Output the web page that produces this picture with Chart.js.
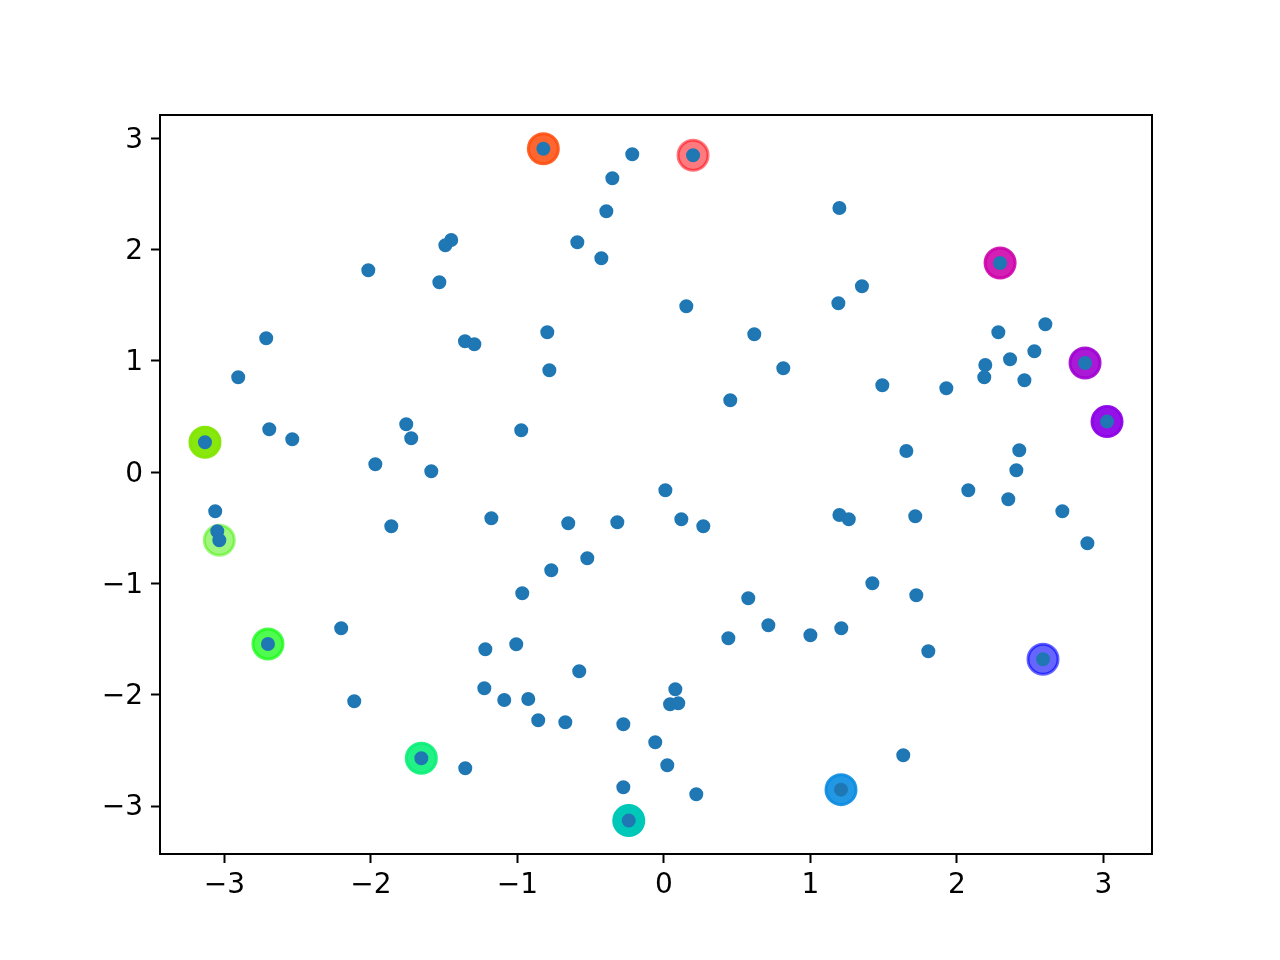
<!DOCTYPE html>
<html>
<head>
<meta charset="utf-8">
<script src="https://cdn.jsdelivr.net/npm/chart.js@4.4.1/dist/chart.umd.min.js"></script>
<style>
  html, body { margin: 0; padding: 0; background: #fff; }
  canvas { display: block; }
</style>
</head>
<body>
<canvas id="myChart" width="1280" height="960"></canvas>
<script>
// scattered points (x, y)
const pointsX = [
  -0.823, -0.216, 0.199, -0.352, -0.393, 1.198, -1.452, -1.492, -0.591, -0.427,
  -2.018, -1.533, 0.153, 1.191, 1.352, 2.295, -0.796, -2.715, -1.358, -1.294,
  0.617, 2.283, 2.604, 2.529, 2.363, 2.194, 2.875, -2.906, -0.782, 0.815,
  2.187, 2.461, 1.491, 1.928, 0.453, 3.025, -1.759, -2.694, -2.537, -1.725,
  -0.974, -3.133, 2.426, 1.655, -1.970, -1.588, 2.406, 0.010, 2.078, 2.351,
  -3.063, -1.178, 0.119, 2.720, 1.198, 1.262, 1.716, -0.653, -0.318, 0.269,
  -1.861, -3.049, -3.035, 2.891, -0.523, -0.769, 1.423, -0.967, 0.576, 1.723,
  0.713, -2.203, 1.211, 1.000, 0.440, -1.008, -2.703, -1.219, 1.805, 2.588,
  -0.578, -1.226, 0.078, -1.090, -0.926, -2.114, 0.042, 0.098, -0.858, -0.673,
  -0.277, -0.059, 1.634, -1.656, 0.023, -1.356, -0.277, 0.221, 1.209, -0.240
];
const pointsY = [
  2.907, 2.857, 2.848, 2.642, 2.345, 2.375, 2.087, 2.040, 2.066, 1.923,
  1.815, 1.707, 1.491, 1.518, 1.671, 1.880, 1.258, 1.204, 1.177, 1.150,
  1.240, 1.258, 1.330, 1.087, 1.015, 0.964, 0.982, 0.854, 0.916, 0.934,
  0.854, 0.827, 0.782, 0.755, 0.647, 0.455, 0.431, 0.386, 0.296, 0.305,
  0.377, 0.270, 0.198, 0.191, 0.072, 0.009, 0.018, -0.162, -0.162, -0.243,
  -0.350, -0.413, -0.422, -0.350, -0.384, -0.422, -0.395, -0.458, -0.449, -0.485,
  -0.485, -0.530, -0.611, -0.638, -0.773, -0.881, -0.997, -1.087, -1.132, -1.105,
  -1.375, -1.402, -1.402, -1.464, -1.491, -1.545, -1.543, -1.590, -1.608, -1.680,
  -1.788, -1.941, -1.950, -2.046, -2.037, -2.058, -2.084, -2.075, -2.228, -2.246,
  -2.264, -2.426, -2.543, -2.570, -2.633, -2.659, -2.830, -2.893, -2.852, -3.130
];

// indices of the outer points that get a big coloured ring
const highlightIdx = [0, 2, 15, 26, 35, 41, 62, 76, 93, 98, 99, 79];

const xTicks = [-3, -2, -1, 0, 1, 2, 3];
const yTicks = [-3, -2, -1, 0, 1, 2, 3];

// ring colours (same order as highlightIdx)
const ringColors = [
  "rgba(255,75,10,0.85)",
  "rgba(255,0,10,0.52)",
  "rgba(205,0,170,0.88)",
  "rgba(160,0,210,0.9)",
  "rgba(140,0,230,0.93)",
  "rgba(130,230,0,0.95)",
  "rgba(65,240,0,0.5)",
  "rgba(20,250,20,0.75)",
  "rgba(10,240,120,0.9)",
  "rgba(10,140,225,0.9)",
  "rgba(0,200,185,1)",
  "rgba(0,0,255,0.6)",
];

const FONT = "'DejaVu Sans', sans-serif";
const fmt = (v) => (v < 0 ? "\u2212" + Math.abs(v) : String(v));

const blueData = pointsX.map((x, i) => ({ x: x, y: pointsY[i] }));
const ringData = highlightIdx.map((i) => ({ x: pointsX[i], y: pointsY[i] }));

// frame around the plot area (matplotlib spines)
const framePlugin = {
  id: "frame",
  afterDraw: (chart) => {
    const a = chart.chartArea;
    const ctx = chart.ctx;
    ctx.save();
    ctx.strokeStyle = "#000";
    ctx.lineWidth = 2;
    ctx.strokeRect(a.left, a.top, a.right - a.left, a.bottom - a.top);
    ctx.restore();
  },
};

const ctx = document.getElementById("myChart").getContext("2d");
new Chart(ctx, {
  type: "scatter",
  data: {
    datasets: [
      {
        data: blueData,
        order: 0,
        backgroundColor: "#1f77b4",
        borderColor: "#1f77b4",
        pointRadius: 6,
        borderWidth: 2,
        pointHoverRadius: 6,
      },
      {
        data: ringData,
        order: 1,
        backgroundColor: ringColors,
        borderColor: ringColors,
        pointRadius: 15,
        borderWidth: 3,
        pointHoverRadius: 15,
      },
    ],
  },
  options: {
    responsive: false,
    animation: false,
    devicePixelRatio: 1,
    layout: { padding: { top: 115, right: 128, left: 0, bottom: 0 } },
    plugins: { legend: { display: false }, tooltip: { enabled: false } },
    scales: {
      x: {
        type: "linear",
        position: "bottom",
        min: -3.44,
        max: 3.332,
        afterBuildTicks: (axis) => {
          axis.ticks = xTicks.map((v) => ({ value: v }));
        },
        afterFit: (axis) => {
          axis.height = 106;
        },
        ticks: {
          color: "#000",
          font: { family: FONT, size: 28 },
          padding: 6,
          maxRotation: 0,
          autoSkip: false,
          callback: fmt,
        },
        grid: {
          drawOnChartArea: false,
          drawTicks: true,
          tickLength: 9,
          tickWidth: 2,
          tickColor: "#000",
        },
        border: { display: true, color: "#000", width: 2 },
      },
      y: {
        type: "linear",
        min: -3.43,
        max: 3.21,
        afterBuildTicks: (axis) => {
          axis.ticks = yTicks.map((v) => ({ value: v }));
        },
        afterFit: (axis) => {
          axis.width = 160;
        },
        ticks: {
          color: "#000",
          font: { family: FONT, size: 28 },
          padding: 8,
          labelOffset: 2, // DejaVu sits a bit high vs matplotlib
          autoSkip: false,
          callback: fmt,
        },
        grid: {
          drawOnChartArea: false,
          drawTicks: true,
          tickLength: 9,
          tickWidth: 2,
          tickColor: "#000",
        },
        border: { display: true, color: "#000", width: 2 },
      },
    },
  },
  plugins: [
    {
      id: "whiteBackground",
      beforeDraw: (chart) => {
        const c = chart.ctx;
        c.save();
        c.fillStyle = "white";
        c.fillRect(0, 0, chart.width, chart.height);
        c.restore();
      },
    },
    framePlugin,
  ],
});
</script>
</body>
</html>
